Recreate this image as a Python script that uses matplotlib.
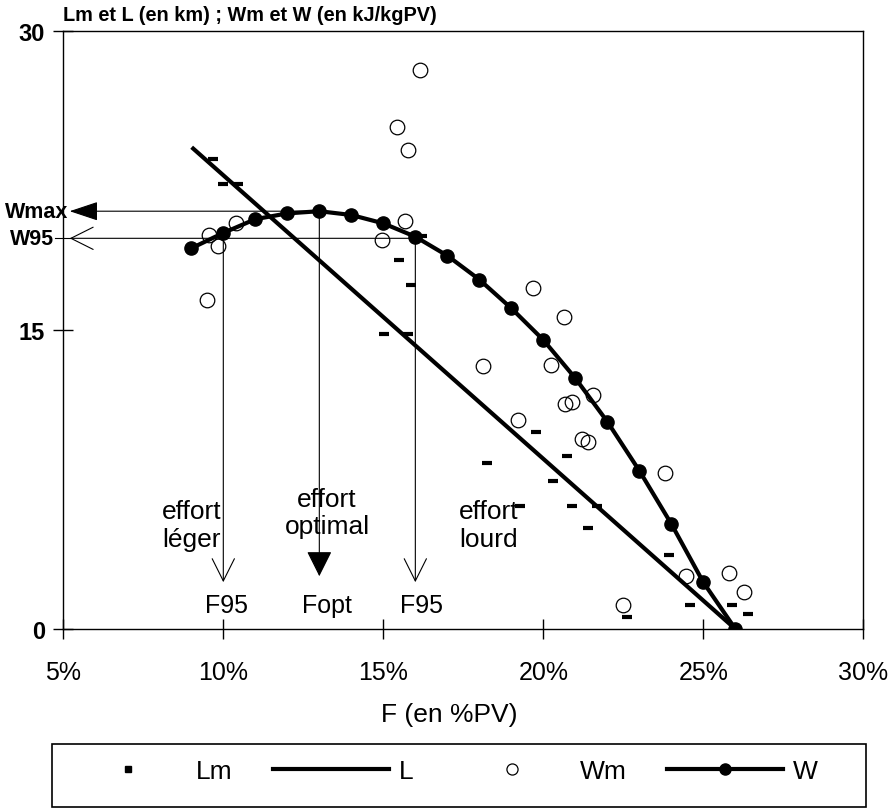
import matplotlib
matplotlib.use('Agg')
from matplotlib import pyplot as plt
from matplotlib.lines import Line2D
from matplotlib.patches import Rectangle
from matplotlib.ticker import FixedLocator, FuncFormatter

plt.rcParams['font.family'] = ['Liberation Sans', 'DejaVu Sans']

# W : fitted work curve (kJ/kgPV) against F (% PV)
W_F = [9, 10, 11, 12, 13, 14, 15, 16, 17, 18, 19, 20, 21, 22, 23, 24, 25, 26]
W = [19.1, 19.87, 20.56, 20.85, 20.96, 20.77, 20.35, 19.68, 18.73, 17.53,
     16.09, 14.5, 12.58, 10.4, 7.94, 5.27, 2.34, 0.0]

# L : fitted distance line (km)
L_F = [9.06, 26]
L = [24.1, 0.0]

# Wm : measured work
Wm_F = [9.5, 9.56, 9.84, 10.4, 14.95, 15.42, 15.68, 15.76, 16.15, 18.1, 19.22,
        19.67, 20.23, 20.65, 20.68, 20.89, 21.2, 21.41, 21.56, 22.48, 23.8,
        24.46, 25.81, 26.27]
Wm = [16.5, 19.77, 19.23, 20.36, 19.53, 25.2, 20.46, 24.03, 28.05, 13.21, 10.5,
      17.09, 13.25, 15.67, 11.29, 11.4, 9.53, 9.37, 11.74, 1.2, 7.81,
      2.68, 2.79, 1.84]

# Lm : measured distance
Lm_F = [9.69, 10.0, 10.47, 15.03, 15.5, 15.78, 15.86, 16.2, 18.23, 19.27, 19.77,
        20.31, 20.75, 20.89, 21.41, 21.67, 22.61, 23.94, 24.58, 25.9, 26.4]
Lm = [23.58, 22.33, 22.33, 14.8, 18.51, 14.8, 17.26, 19.73, 8.31, 6.19, 9.9,
      7.44, 8.7, 6.19, 5.05, 6.19, 0.59, 3.71, 1.2, 1.2, 0.75]

# reference levels
F_opt = 13
W_max = 20.96
W_95 = 19.6
F95_low = 10
F95_high = 16
arrow_end = 2.35

x_ticks = [5, 10, 15, 20, 25, 30]
y_ticks = [0, 15, 30]

fig = plt.figure(figsize=(8.95, 8.12), dpi=100)
ax = fig.add_axes([0.0707, 0.2241, 0.894, 0.7365])

ax.plot(Lm_F, Lm, linestyle='none', marker='_', markersize=6.5, markeredgewidth=3,
        color='black', zorder=3)
ax.plot(L_F, L, color='black', linewidth=3, zorder=2)
ax.plot(Wm_F, Wm, linestyle='none', marker='o', markersize=10.5,
        markerfacecolor='none', markeredgecolor='black', markeredgewidth=0.9,
        zorder=3)
ax.plot(W_F, W, color='black', linewidth=3, marker='o', markersize=9.5, zorder=4)

# guide lines and arrows
thin = dict(color='black', linewidth=0.8)
ax.annotate('', xy=(5.2, W_max), xytext=(F_opt, W_max), annotation_clip=False,
            arrowprops=dict(arrowstyle='-|>,head_length=1.8,head_width=0.6',
                            mutation_scale=10, shrinkA=0, shrinkB=0, fc='black', **thin))
ax.annotate('', xy=(5.2, W_95), xytext=(F95_high, W_95), annotation_clip=False,
            arrowprops=dict(arrowstyle='->,head_length=1.6,head_width=0.8',
                            mutation_scale=10, shrinkA=0, shrinkB=0, **thin))
ax.plot([4.75, 5.2], [W_95, W_95], clip_on=False, **thin)
ax.annotate('', xy=(F_opt, arrow_end + 0.3), xytext=(F_opt, W_max),
            arrowprops=dict(arrowstyle='-|>,head_length=1.6,head_width=0.8',
                            mutation_scale=10, shrinkA=0, shrinkB=0, fc='black', **thin))
for f in [F95_low, F95_high]:
    ax.annotate('', xy=(f, arrow_end), xytext=(f, W_95),
                arrowprops=dict(arrowstyle='->,head_length=1.6,head_width=0.8',
                                mutation_scale=10, shrinkA=0, shrinkB=0, **thin))

ax.text(5.15, W_max, 'Wmax', ha='right', va='center', fontsize=15.5,
        fontweight='bold', clip_on=False)
ax.text(4.72, W_95, 'W95', ha='right', va='center', fontsize=15.5,
        fontweight='bold', clip_on=False)

ax.text(F95_low + 0.1, 1.2, 'F95', ha='center', va='center', fontsize=18)
ax.text(F_opt + 0.25, 1.2, 'Fopt', ha='center', va='center', fontsize=18)
ax.text(F95_high + 0.2, 1.2, 'F95', ha='center', va='center', fontsize=18)

ax.text(9.0, 5.2, 'effort\nléger', ha='center', va='center', fontsize=19)
ax.text(13.24, 5.85, 'effort\noptimal', ha='center', va='center', fontsize=19)
ax.text(18.3, 5.2, 'effort\nlourd', ha='center', va='center', fontsize=19)

ax.set_xlim(5, 30)
ax.set_ylim(0, 30)
ax.xaxis.set_major_locator(FixedLocator(x_ticks))
ax.xaxis.set_major_formatter(FuncFormatter(lambda v, p: '%d%%' % v))
ax.yaxis.set_major_locator(FixedLocator(y_ticks))
ax.tick_params(axis='both', direction='inout', length=14, width=1)
ax.tick_params(axis='x', labelsize=18, pad=15)
ax.tick_params(axis='y', labelsize=17, pad=6)
for lab in ax.get_yticklabels():
    lab.set_fontweight('bold')
for s in ax.spines.values():
    s.set_linewidth(1)

ax.set_xlabel('F (en %PV)', fontsize=19, labelpad=13, x=0.483)
ax.set_title('Lm et L (en km) ; Wm et W (en kJ/kgPV)', loc='left', fontsize=14.3,
             fontweight='bold', pad=8)

handles = [
    Line2D([], [], linestyle='none', marker='s', markersize=4, color='black'),
    Line2D([], [], color='black', linewidth=3),
    Line2D([], [], linestyle='none', marker='o', markersize=8,
           markerfacecolor='none', markeredgecolor='black', markeredgewidth=0.9),
    Line2D([], [], color='black', linewidth=3, marker='o', markersize=8),
]
fig.legend(handles, ['Lm', 'L', 'Wm', 'W'], loc='center left',
           bbox_to_anchor=(70 / 895, 1 - 772 / 812), ncol=4, fontsize=19,
           handlelength=4.4, handletextpad=0.38, columnspacing=1.52,
           borderpad=0, borderaxespad=0, frameon=False)
fig.patches.append(Rectangle((52 / 895, 4 / 812), 814 / 895, 63 / 812,
                             transform=fig.transFigure, fill=False,
                             edgecolor='black', linewidth=1.2))

fig.savefig('out.png', dpi=100)
